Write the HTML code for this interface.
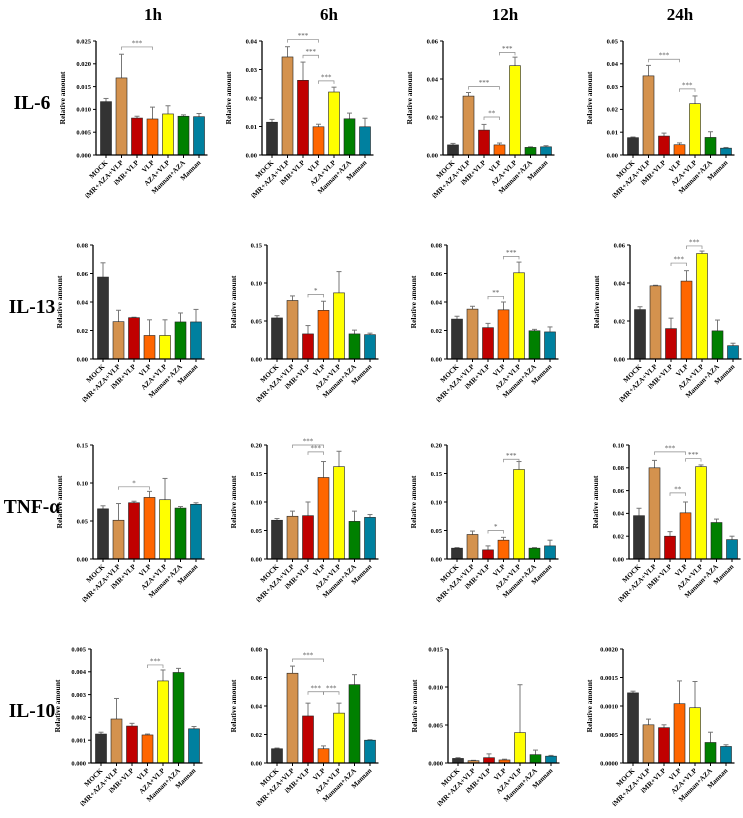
<!DOCTYPE html>
<html><head><meta charset="utf-8">
<style>
html,body{margin:0;padding:0;background:#fff;}
svg{display:block;font-family:"Liberation Serif",serif;}
</style></head>
<body>
<svg id="fig" width="743" height="818" viewBox="0 0 743 818" xmlns="http://www.w3.org/2000/svg"></svg>
<script>
const categories = ["MOCK","iMR+AZA+VLP","iMR+VLP","VLP","AZA+VLP","Mannan+AZA","Mannan"];
const colors = ["#333333","#D4924E","#C00000","#FF6600","#FFFF00","#008000","#00809F"];
const timepoints = ["1h","6h","12h","24h"];
const cytokines = ["IL-6","IL-13","TNF-α","IL-10"];

const il6Means = [[0.0117,0.0169,0.0081,0.0079,0.0090,0.0085,0.0084],[0.0115,0.0344,0.0262,0.0099,0.0221,0.0127,0.0099],[0.0053,0.031,0.0131,0.0053,0.047,0.004,0.0043],[0.0076,0.0347,0.0083,0.0045,0.0225,0.0077,0.003]];
const il6Errs = [[0.0007,0.0052,0.0004,0.0026,0.0018,0.0003,0.0007],[0.001,0.0036,0.0064,0.0009,0.0017,0.002,0.003],[0.0008,0.0019,0.003,0.001,0.0045,0.0003,0.0006],[0.0003,0.0046,0.0013,0.0008,0.0034,0.0025,0.0003]];
const il13Means = [[0.0575,0.0262,0.029,0.0165,0.0165,0.026,0.026],[0.054,0.077,0.033,0.064,0.087,0.033,0.032],[0.028,0.035,0.022,0.0345,0.0605,0.0198,0.019],[0.026,0.0385,0.016,0.041,0.0555,0.0148,0.007]];
const il13Errs = [[0.010,0.008,0.0003,0.011,0.011,0.0063,0.0088],[0.003,0.006,0.011,0.012,0.028,0.005,0.002],[0.002,0.002,0.003,0.0055,0.0075,0.001,0.0035],[0.0015,0.0003,0.0055,0.0055,0.0013,0.0057,0.0013]];
const tnfMeans = [[0.066,0.051,0.074,0.081,0.078,0.067,0.072],[0.068,0.075,0.076,0.143,0.162,0.066,0.073],[0.019,0.043,0.016,0.033,0.157,0.019,0.023],[0.038,0.080,0.020,0.0405,0.081,0.032,0.017]];
const tnfErrs = [[0.004,0.022,0.002,0.008,0.028,0.002,0.002],[0.003,0.009,0.024,0.028,0.027,0.018,0.005],[0.001,0.006,0.007,0.005,0.014,0.001,0.01],[0.0065,0.0065,0.004,0.0095,0.0015,0.003,0.003]];
const il10Means = [[0.00127,0.00193,0.00162,0.00123,0.0036,0.00397,0.0015],[0.01,0.063,0.033,0.01,0.035,0.055,0.016],[0.0006,0.0003,0.0007,0.0004,0.004,0.0011,0.0009],[0.00123,0.00067,0.00062,0.00104,0.00097,0.00036,0.00029]];
const il10Errs = [[0.00008,0.0009,0.00012,0.00004,0.00048,0.00018,0.0001],[0.0005,0.005,0.009,0.002,0.007,0.007,0.0003],[0.0001,0.00005,0.0005,0.0001,0.0063,0.0006,0.0001],[0.00003,0.0001,0.00005,0.0004,0.00046,0.00018,0.00003]];

const il6Ticks = [[0.025,0.005,3],[0.04,0.01,2],[0.06,0.02,2],[0.05,0.01,2]];
const il13Ticks = [[0.08,0.02,2],[0.15,0.05,2],[0.08,0.02,2],[0.06,0.02,2]];
const tnfTicks = [[0.15,0.05,2],[0.20,0.05,2],[0.20,0.05,2],[0.10,0.02,2]];
const il10Ticks = [[0.005,0.001,3],[0.08,0.02,2],[0.015,0.005,3],[0.002,0.0005,4]];

const il6Sig = [[[1,3,0.0237,"***"]],[[1,3,0.0405,"***"],[2,3,0.035,"***"],[3,4,0.026,"***"]],[[1,3,0.036,"***"],[2,3,0.020,"**"],[3,4,0.054,"***"]],[[1,3,0.042,"***"],[3,4,0.029,"***"]]];
const il13Sig = [[],[[2,3,0.085,"*"]],[[2,3,0.044,"**"],[3,4,0.072,"***"]],[[2,3,0.0505,"***"],[3,4,0.0595,"***"]]];
const tnfSig = [[[1,3,0.095,"*"]],[[1,3,0.20,"***"],[2,3,0.188,"***"]],[[2,3,0.05,"*"],[3,4,0.175,"***"]],[[1,3,0.094,"***"],[3,4,0.088,"***"],[2,3,0.058,"**"]]];
const il10Sig = [[[3,4,0.0043,"***"]],[[1,3,0.073,"***"],[2,3,0.050,"***"],[3,4,0.050,"***"]],[],[]];

const allMeans=[il6Means,il13Means,tnfMeans,il10Means];
const allErrs=[il6Errs,il13Errs,tnfErrs,il10Errs];
const allTicks=[il6Ticks,il13Ticks,tnfTicks,il10Ticks];
const allSig=[il6Sig,il13Sig,tnfSig,il10Sig];

const NS="http://www.w3.org/2000/svg";
const svg=document.getElementById('fig');
function mk(tag,attrs,parent){const e=document.createElementNS(NS,tag);for(const k in attrs)e.setAttribute(k,attrs[k]);(parent||svg).appendChild(e);return e;}

const axisX=[[96,262,443,623],[93,267,447,630],[93,267,447,629],[91,267,448,623]];
const topY=[41,245,445,649];
const plotH=114;
const pitch=15.5, barW=11, off=4.5;
const colCenters=[153,329,505,680];

timepoints.forEach((t,c)=>{
  const e=mk('text',{x:colCenters[c],y:20,'text-anchor':'middle','font-size':17,'font-weight':'bold',fill:'#000'});
  
  
  e.textContent=t;
});
cytokines.forEach((n,r)=>{
  const e=mk('text',{x:32,y:topY[r]+68,'text-anchor':'middle','font-size':19.5,'font-weight':'bold',fill:'#000'});
  
  
  e.textContent=n;
});

for(let r=0;r<4;r++){
  for(let c=0;c<4;c++){
    const ax=axisX[r][c], y0=topY[r]+plotH, yt=topY[r];
    const [ymax,step,dec]=allTicks[r][c];
    const ys=v=>y0-v/ymax*plotH;
    const xs=i=>ax+off+barW/2+i*pitch;
    const g=mk('g',{});
    
    
    const yl=mk('text',{x:0,y:0,transform:`translate(${ax-31},${yt+plotH/2}) rotate(-90)`,'text-anchor':'middle','font-size':7.5,'font-weight':'bold',fill:'#000'},g);
    
    
    yl.textContent='Relative amount';
    const n=Math.round(ymax/step);
    for(let k=0;k<=n;k++){
      const v=k*step, y=ys(v);
      mk('line',{x1:ax-3,x2:ax,y1:y,y2:y,stroke:'#000','stroke-width':1},g);
      const tl=mk('text',{x:ax-5,y:y+2.3,'text-anchor':'end','font-size':6.5,'font-weight':'bold',fill:'#000'},g);
      
      
      tl.textContent=v.toFixed(dec);
    }
    const means=allMeans[r][c], errs=allErrs[r][c];
    means.forEach((m,i)=>{
      const x=xs(i), top=ys(m), et=ys(m+errs[i]);
      mk('line',{x1:x,x2:x,y1:top,y2:et,stroke:'#777','stroke-width':1},g);
      mk('line',{x1:x-2.5,x2:x+2.5,y1:et,y2:et,stroke:'#777','stroke-width':1},g);
      const b=mk('rect',{x:x-barW/2,y:top,width:barW,height:y0-top,fill:colors[i],stroke:'#222','stroke-width':0.6},g);
      
      
      mk('line',{x1:x,x2:x,y1:y0,y2:y0+3,stroke:'#000','stroke-width':1},g);
      const cl=mk('text',{x:0,y:0,transform:`translate(${x+2},${y0+8}) rotate(-45)`,'text-anchor':'end','font-size':7,'font-weight':'bold',fill:'#000'},g);
      
      
      cl.textContent=categories[i];
    });
    mk('line',{x1:ax,x2:ax,y1:yt,y2:y0+0.5,stroke:'#000','stroke-width':1.3},g);
    mk('line',{x1:ax,x2:xs(6)+barW/2+3,y1:y0,y2:y0,stroke:'#000','stroke-width':1.3},g);
    allSig[r][c].forEach(s=>{
      const x1=xs(s[0]), x2=xs(s[1]), y=ys(s[2]);
      const p=mk('path',{d:`M${x1},${y+3}V${y}H${x2}V${y+3}`,fill:'none',stroke:'#888','stroke-width':0.7},g);
      
      
      const st=mk('text',{x:(x1+x2)/2,y:y-1.5,'text-anchor':'middle','font-size':7,fill:'#555'},g);
      
      
      st.textContent=s[3];
    });
  }
}
</script>
</body></html>
